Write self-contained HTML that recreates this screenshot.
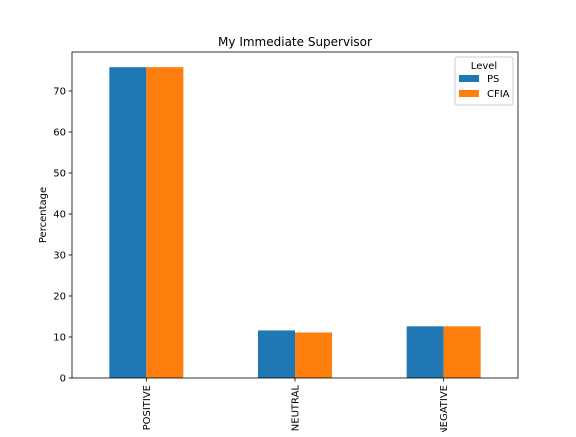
<!DOCTYPE html>
<html><head><style>body{margin:0;background:#fff}svg{font-family:"DejaVu Sans","Liberation Sans",sans-serif}</style></head>
<body>
<svg id="c" width="576" height="432"></svg>
<script>
const categories=["POSITIVE","NEUTRAL","NEGATIVE"];
const psValues=[75.8,11.6,12.6];
const cfiaValues=[75.8,11.1,12.6];
const yTicks=[0,10,20,30,40,50,60,70];
const L=72,R=518,T=52,B=378,yMax=79.5;
const NS="http://www.w3.org/2000/svg";
const svg=document.getElementById('c');
const y=v=>B-(v/yMax)*(B-T);
const x=i=>L+(i+0.5)*(R-L)/categories.length;
function mk(t,a,txt){const e=document.createElementNS(NS,t);for(const k in a)e.setAttribute(k,a[k]);if(txt!==undefined)e.textContent=txt;svg.appendChild(e);return e;}
const bw=37;
categories.forEach((c,i)=>{
 let b=mk('rect',{x:x(i)-bw,y:y(psValues[i]),width:bw,height:B-y(psValues[i]),fill:'#1f77b4'});
 
 
 let b2=mk('rect',{x:x(i),y:y(cfiaValues[i]),width:bw,height:B-y(cfiaValues[i]),fill:'#ff7f0e'});
 
 
 mk('line',{x1:x(i),x2:x(i),y1:B,y2:B+3.5,stroke:'#000','stroke-width':0.8});
 let t=mk('text',{x:0,y:0,'font-size':10,'text-anchor':'end',transform:`translate(${x(i)+3.5},${B+7}) rotate(-90)`},c);
 
 
});
yTicks.forEach(v=>{
 mk('line',{x1:L-3.5,x2:L,y1:y(v),y2:y(v),stroke:'#000','stroke-width':0.8});
 let t=mk('text',{x:L-6,y:y(v)+3.5,'font-size':10,'text-anchor':'end'},v);
 
 
});
let f=mk('rect',{x:L,y:T,width:R-L,height:B-T,fill:'none',stroke:'#000','stroke-width':0.8});


let ti=mk('text',{x:(L+R)/2,y:T-6,'font-size':12,'text-anchor':'middle'},'My Immediate Supervisor');


let yl=mk('text',{x:0,y:0,'font-size':10,'text-anchor':'middle',transform:`translate(46,${(T+B)/2}) rotate(-90)`},'Percentage');


let lg=mk('rect',{x:455,y:57,width:58,height:48,fill:'#fff',stroke:'#ccc','stroke-width':1,rx:2});


let lt=mk('text',{x:484,y:69,'font-size':10,'text-anchor':'middle'},'Level');


[['PS','#1f77b4',75],['CFIA','#ff7f0e',90]].forEach(([n,col,yy])=>{
 let r=mk('rect',{x:459,y:yy,width:20,height:7,fill:col});
 
 
 let t=mk('text',{x:487,y:yy+7,'font-size':10},n);
 
 
});
</script>
</body></html>
